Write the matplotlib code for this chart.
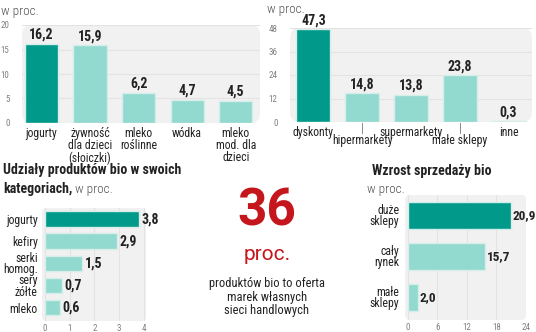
import matplotlib.pyplot as plt
from matplotlib import font_manager
from matplotlib.patches import FancyBboxPatch

avail = {f.name for f in font_manager.fontManager.ttflist}
FAM = [f for f in ["Roboto Condensed", "Liberation Sans Narrow", "Roboto"] if f in avail] + ["DejaVu Sans"]
plt.rcParams['font.family'] = FAM
WIDE = ["Roboto", "DejaVu Sans"]

# dane
kat1 = ["jogurty", "żywność\ndla dzieci\n(słoiczki)", "mleko\nroślinne", "wódka", "mleko\nmod. dla\ndzieci"]
val1 = [16.2, 15.9, 6.2, 4.7, 4.5]
ticks1 = [0, 5, 10, 15, 20]

kat2 = ["dyskonty", "hipermarkety", "supermarkety", "małe sklepy", "inne"]
val2 = [47.3, 14.8, 13.8, 23.8, 0.3]
ticks2 = [0, 12, 24, 36, 48]

kat3 = ["jogurty", "kefiry", "serki\nhomog.", "sery\nżółte", "mleko"]
val3 = [3.8, 2.9, 1.5, 0.7, 0.6]
ticks3 = [0, 1, 2, 3, 4]

kat5 = ["duże\nsklepy", "cały\nrynek", "małe\nsklepy"]
val5 = [20.9, 15.7, 2.0]
ticks5 = [0, 6, 12, 18, 24]

W, H = 536, 332
DARK = "#00998a"
LIGHT = "#92d9cf"
BG = "#f1f1f1"
GRID = "#e3e3e3"
TICKC = "#808080"
TXT = "#222222"
SUB = "#555555"
RED = "#c4161c"

fig = plt.figure(figsize=(W / 100, H / 100), dpi=100)


def px_axes(x0, y0, x1, y1):
    # pixel box (top-left origin) -> figure axes
    ax = fig.add_axes([x0 / W, 1 - y1 / H, (x1 - x0) / W, (y1 - y0) / H])
    ax.set_facecolor("none")
    for s in ax.spines.values():
        s.set_visible(False)
    ax.add_patch(FancyBboxPatch((0, 0), 1, 1, boxstyle="round,pad=0,rounding_size=0.04",
                                transform=ax.transAxes, fc=BG, ec="none", zorder=0,
                                clip_on=False, mutation_aspect=(x1 - x0) / (y1 - y0)))
    return ax


def fmt(v):
    return f"{v:.1f}".replace(".", ",")


colors1 = [DARK] + [LIGHT] * 4

# panel 1
ax1 = px_axes(22, 25, 260, 123)
x1 = range(len(val1))
ax1.bar(x1, val1, width=0.68, color=colors1, edgecolor="#d6eeea", linewidth=1, zorder=2)
ax1.set_xlim(-0.40, 4.5)
ax1.set_ylim(0, 20)
ax1.set_yticks(ticks1)
ax1.yaxis.grid(True, color=GRID, lw=0.8, zorder=1)
ax1.tick_params(axis="y", length=0, labelsize=6.5, labelcolor=TICKC, pad=9)
ax1.set_xticks([])
for i, v in enumerate(val1):
    ax1.text(i, v + 0.4, fmt(v), ha="center", va="bottom", fontsize=10, fontweight="bold", color=TXT)
    ax1.text(i, -0.8, kat1[i], ha="center", va="top", fontsize=8.5, color=TXT, linespacing=0.92)
fig.text(1 / W, 1 - 11 / H, "w proc.", fontsize=9.5, color=SUB, fontweight="light", va="center")

# panel 2
ax2 = px_axes(290, 28, 532, 122)
x2 = range(len(val2))
ax2.bar(x2, val2, width=0.7, color=colors1, edgecolor="#d6eeea", linewidth=1, zorder=2)
ax2.set_xlim(-0.48, 4.48)
ax2.set_ylim(0, 48)
ax2.set_yticks(ticks2)
ax2.yaxis.grid(True, color=GRID, lw=0.8, zorder=1)
ax2.tick_params(axis="y", length=0, labelsize=6.5, labelcolor=TICKC, pad=9)
ax2.set_xticks([])
for i, v in enumerate(val2):
    ax2.text(i, v + 1.0, fmt(v), ha="center", va="bottom", fontsize=10, fontweight="bold", color=TXT)
    if i % 2 == 0:
        ax2.text(i, -1.8, kat2[i], ha="center", va="top", fontsize=8.5, color=TXT)
    else:
        ax2.plot([i, i], [-0.5, -5.5], color="#888888", lw=0.7, clip_on=False)
        ax2.text(i, -6.3, kat2[i], ha="center", va="top", fontsize=8.5, color=TXT)
fig.text(267 / W, 1 - 9 / H, "w proc.", fontsize=9.5, color=SUB, fontweight="light", va="center")

# panel 3
fig.text(3 / W, 1 - 170 / H, "Udziały produktów bio w swoich", fontsize=10, fontweight="bold", color=TXT, va="center")
t = fig.text(3 / W, 1 - 189 / H, "kategoriach,", fontsize=10, fontweight="bold", color=TXT, va="center")
fig.canvas.draw()
bb = t.get_window_extent()
fig.text((bb.x1 + 3) / W, 1 - 189 / H, "w proc.", fontsize=9.5, color=SUB, fontweight="light", va="center")
ax3 = px_axes(42, 208, 146, 321)
y3 = range(len(val3))
ax3.barh(y3, val3, height=0.7, color=colors1, edgecolor="#d6eeea", linewidth=1, zorder=2)
ax3.set_xlim(-0.12, 4.08)
ax3.set_ylim(4.6, -0.5)
ax3.set_xticks(ticks3)
ax3.xaxis.grid(True, color=GRID, lw=0.8, zorder=1)
ax3.tick_params(axis="x", length=0, labelsize=6.5, labelcolor=TICKC, pad=2)
ax3.set_yticks(list(y3))
ax3.set_yticklabels(kat3, fontsize=8.5, color=TXT, linespacing=0.85)
ax3.tick_params(axis="y", length=0, pad=3)
for i, v in enumerate(val3):
    ax3.text(v + 0.1, i, fmt(v), ha="left", va="center", fontsize=10, fontweight="bold", color=TXT)

# panel 4
fig.text(267 / W, 1 - 211 / H, "36", fontsize=37, fontweight="bold", color=RED, ha="center",
         va="center", family=WIDE)
fig.text(267 / W, 1 - 254 / H, "proc.", fontsize=15, color=RED, ha="center", va="center", family=WIDE)
fig.text(267 / W, 1 - 297 / H, "produktów bio to oferta\nmarek własnych\nsieci handlowych",
         fontsize=9, color=TXT, ha="center", va="center", linespacing=1.05)

# panel 5
fig.text(372 / W, 1 - 171 / H, "Wzrost sprzedaży bio", fontsize=10, fontweight="bold", color=TXT, va="center")
fig.text(367 / W, 1 - 189 / H, "w proc.", fontsize=9.5, color=SUB, fontweight="light", va="center")
ax5 = px_axes(405, 195, 526, 320)
y5 = range(len(val5))
ax5.barh(y5, val5, height=0.68, color=[DARK, LIGHT, LIGHT], edgecolor="#d6eeea", linewidth=1, zorder=2)
ax5.set_xlim(-0.6, 24)
ax5.set_ylim(2.55, -0.5)
ax5.set_xticks(ticks5)
ax5.xaxis.grid(True, color=GRID, lw=0.8, zorder=1)
ax5.tick_params(axis="x", length=0, labelsize=6.5, labelcolor=TICKC, pad=2)
ax5.set_yticks(list(y5))
ax5.set_yticklabels(kat5, fontsize=8.5, color=TXT, linespacing=0.85, ha="right")
ax5.tick_params(axis="y", length=0, pad=4)
for i, v in enumerate(val5):
    ax5.text(v + 0.4, i, fmt(v), ha="left", va="center", fontsize=9.5, fontweight="bold", color=TXT)

fig.savefig("out.png", dpi=100)
